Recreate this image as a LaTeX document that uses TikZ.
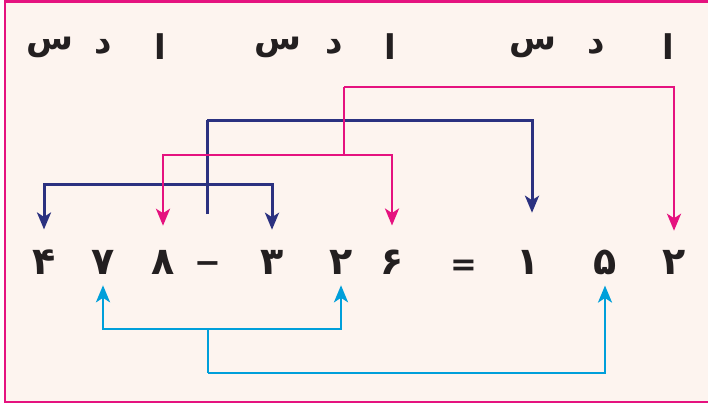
\documentclass[tikz,border=0pt]{standalone}
\usepackage{fontspec}
\usetikzlibrary{arrows.meta}
\TeXXeTstate=1
\newfontfamily\urdu[Script=Arabic]{DejaVu Sans}
\definecolor{bgc}{HTML}{FDF4EF}
\definecolor{frm}{HTML}{E5127F}
\definecolor{navyc}{HTML}{2B3180}
\definecolor{magc}{HTML}{E5127F}
\definecolor{cyanc}{HTML}{009FDA}
\definecolor{ink}{HTML}{231F20}
\tikzset{
  hdr/.style={font=\urdu\bfseries\fontsize{34}{40}\selectfont, text=ink, inner sep=0pt},
  dig/.style={font=\urdu\bfseries\fontsize{38}{42}\selectfont, text=ink, inner sep=0pt, minimum height=24pt},
  sym/.style={font=\urdu\bfseries\fontsize{32}{36}\selectfont, text=ink, inner sep=0pt},
  tipc/.style={-{Stealth[length=17pt,width=14pt,inset=4.5pt]}},
  navyline/.style={draw=navyc, line width=3pt},
  magline/.style={draw=magc, line width=2.8pt},
  cyanline/.style={draw=cyanc, line width=2.8pt},
  navyarr/.style={navyline, tipc},
  magarr/.style={magline, tipc},
  cyanarr/.style={cyanline, tipc},
}
\begin{document}
\begin{tikzpicture}[x=1pt,y=-1pt]
\clip (0,0) rectangle (708,405);
\fill[white] (0,0) rectangle (708,405);
\fill[bgc] (5,1.5) rectangle (720,402);
\draw[frm, line width=2.6pt] (5,1.5) rectangle (720,402);
% headers
\node[hdr] (h1) at (50,47) {\beginR س\endR};
\node[hdr] (h2) at (103,47) {\beginR د\endR};
\node[hdr] (h3) at (160,47) {\beginR ا\endR};
\node[hdr] (h4) at (278,47) {\beginR س\endR};
\node[hdr] (h5) at (334,47) {\beginR د\endR};
\node[hdr] (h6) at (390,47) {\beginR ا\endR};
\node[hdr] (h7) at (533,47) {\beginR س\endR};
\node[hdr] (h8) at (596,47) {\beginR د\endR};
\node[hdr] (h9) at (668,47) {\beginR ا\endR};
% digits
\node[dig] (d1) at (44,262) {۴};
\node[dig] (d2) at (103,262) {۷};
\node[dig] (d3) at (163,262) {۸};
\node[sym] (m) at (208,268) {−};
\node[dig] (d5) at (272,262) {۳};
\node[dig] (d6) at (341,262) {۲};
\node[dig] (d7) at (392,262) {۶};
\node[sym] (eq) at (464,268) {=};
\node[dig] (d9) at (528,262) {۱};
\node[dig] (d10) at (605,262) {۵};
\node[dig] (d11) at (674,262) {۲};
% junction coordinates
\coordinate (bs) at (207,214);
\coordinate (bt) at (207,120);
\coordinate (bl) at (207,184);
\coordinate (mt) at (344,87);
\coordinate (mj) at (344,155);
\coordinate (cj) at (208,329);
\coordinate (cb) at (208,373);
% navy
\draw[navyline] (bs) -- (bt);
\draw[navyarr] (bl) -| ([yshift=20pt]d1.north);
\draw[navyarr] (bl) -| ([yshift=20pt]d5.north);
\draw[navyarr] (bt) -| ([xshift=4pt,yshift=37pt]d9.north);
% magenta
\draw[magline] (mj) -- (mt);
\draw[magarr] (mt) -| ([yshift=19pt]d11.north);
\draw[magarr] (mj) -| ([yshift=24pt]d3.north);
\draw[magarr] (mj) -| ([yshift=24pt]d7.north);
% cyan
\draw[cyanline] (cj) -- (cb);
\draw[cyanarr] (cj) -| ([yshift=-11pt]d2.south);
\draw[cyanarr] (cj) -| ([yshift=-11pt]d6.south);
\draw[cyanarr] (cb) -| ([yshift=-11pt]d10.south);
\end{tikzpicture}
\end{document}
